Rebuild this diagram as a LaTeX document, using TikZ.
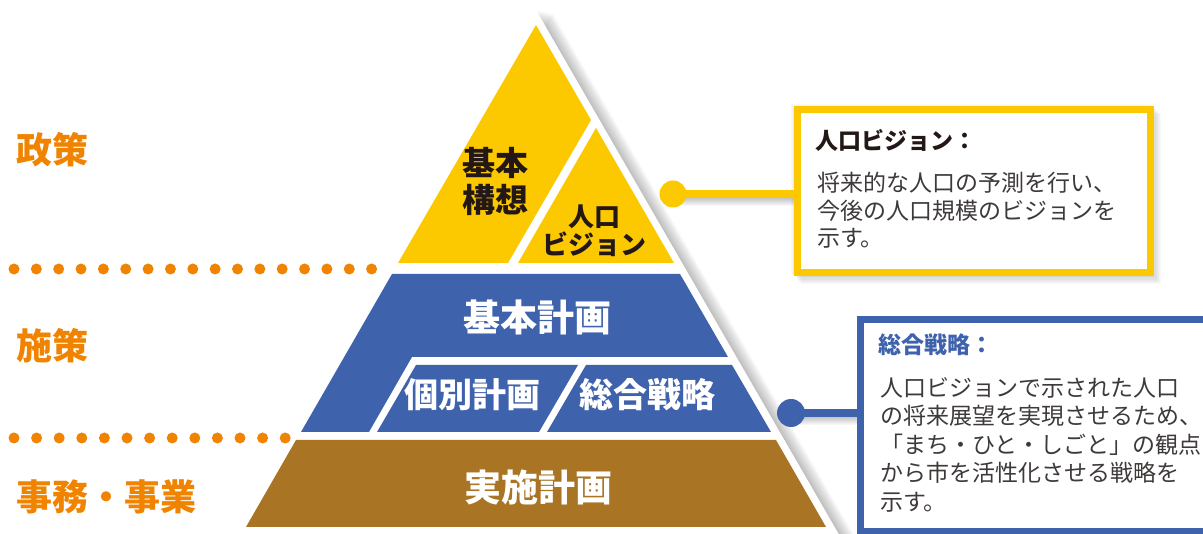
\documentclass[tikz,border=0pt]{standalone}
\usepackage{fontspec}
\newfontfamily\jp{Noto Sans CJK JP}
\newcommand\jpset[2]{\jp\fontsize{#1}{#2}\selectfont}
\usetikzlibrary{calc}
\definecolor{yel}{RGB}{252,200,0}
\definecolor{blu}{RGB}{63,98,173}
\definecolor{brn}{RGB}{169,117,37}
\definecolor{org}{RGB}{240,131,0}
\definecolor{ink}{RGB}{35,24,21}
\definecolor{bodyink}{RGB}{62,58,57}
\pgfdeclarelayer{bg}
\pgfsetlayers{bg,main}
\begin{document}
\begin{tikzpicture}[x=1pt,y=-1pt,
  shd/.style={fill=black,fill opacity=0.022,draw=none},
  lvl/.style={inner sep=0,text=white,font=\jpset{37}{37}\bfseries},
  sub/.style={inner sep=0,text=white,font=\jpset{34}{34}\bfseries},
  side/.style={inner sep=0,anchor=west,text=org,font=\jpset{36}{36}\bfseries},
  dotc/.style={fill=org},
  ttl/.style={inner sep=0,anchor=west,font=\jpset{23}{28}\bfseries},
  bodytext/.style={inner sep=0,anchor=north west,align=left,text=bodyink},
  cdot/.style={circle,inner sep=0,minimum size=27pt},
  callbox/.style={line width=7pt,fill=white,inner sep=0,anchor=north west}]
\useasboundingbox (0,0) rectangle (1203,534);
\clip (0,0) rectangle (1203,534);

% shadow of the white pyramid frame
\begin{pgfonlayer}{bg}
\foreach \i in {1,...,12}
  \fill[shd,shift={(\i*1.4,\i*0.3)}] (536,10) -- (845,545) -- (227,545) -- cycle;
\foreach \i in {1,...,10}
  \fill[shd,shift={(\i*1.1,\i*1.1)}] (790,103) rectangle (1150,273);
\end{pgfonlayer}

% white frame
\fill[white] (536,10) -- (845,545) -- (227,545) -- cycle;

% yellow top
\fill[yel] (536,25) -- (591,120) -- (508,263) -- (398,263) -- cycle;
\fill[yel] (596,128) -- (674,263) -- (518,263) -- cycle;
% blue band
\fill[blu] (392,274) -- (680,274) -- (728,357) -- (412,357) -- (369,432) -- (301,432) -- cycle;
\fill[blu] (416,365) -- (578,365) -- (539,432) -- (377,432) -- cycle;
\fill[blu] (586,365) -- (732,365) -- (771,432) -- (547,432) -- cycle;
% brown base
\fill[brn] (296,440) -- (776,440) -- (826,527) -- (246,527) -- cycle;

% pyramid labels
\node[inner sep=0,align=center,text=ink,font=\jpset{33}{37}\bfseries] (koso) at (495,181.5) {基本\\構想};
\node[inner sep=0,align=center,text=ink,font=\jpset{26}{28}\bfseries] (jvis) at (594,231) {人口\\ビジョン};
\node[lvl] (kihon) at (537,317) {基本計画};
\node[sub] (kobetsu) at (472,395) {個別計画};
\node[sub] (sogo) at (647,395) {総合戦略};
\node[lvl] (jisshi) at (538,487) {実施計画};

% side labels
\node[side] (seisaku) at (16,150) {政策};
\node[side] (shisaku) at (16,346) {施策};
\node[side] (jimu) at (16,497) {事務・事業};

% dotted dividers
\foreach \i in {0,...,16} \fill[dotc] (14+\i*22.35,269) circle (5.5);
\foreach \i in {0,...,12} \fill[dotc] (14+\i*22.6,438) circle (5.5);

% callout: population vision
\node[cdot,fill=yel] (ydot) at (673,194) {};
\node[callbox,draw=yel,minimum width=353pt,minimum height=163pt] (ybox) at (793.5,106.5) {};
\draw[yel,line width=8pt] (ydot.center) -- (ydot.center -| ybox.west);
\node[ttl,text=ink] (ytitle) at (815,140) {人口ビジョン：};
\node[bodytext,font=\jpset{23}{27.5}] (ybody) at (817,172) {将来的な人口の予測を行い、\\今後の人口規模のビジョンを\\示す。};

% callout: comprehensive strategy
\node[cdot,fill=blu,minimum size=28pt] (bdot) at (791,413) {};
\node[callbox,draw=blu,minimum width=370pt,minimum height=212pt] (bbox) at (856.5,316.5) {};
\draw[blu,line width=8pt] (bdot.center) -- (bdot.center -| bbox.west);
\node[ttl,text=blu] (btitle) at (878,345) {総合戦略：};
\node[bodytext,font=\jpset{23}{28.5}] (bbody) at (880,377) {人口ビジョンで示された人口\\の将来展望を実現させるため、\\「まち・ひと・しごと」の観点\\から市を活性化させる戦略を\\示す。};

% connector shadows
\begin{pgfonlayer}{bg}
\foreach \i in {1,...,8} {
  \draw[black,opacity=0.03,line width=8pt] ($(ydot.center)+(0,\i)$) -- ($(ydot.center -| ybox.west)+(0,\i)$);
  \draw[black,opacity=0.03,line width=8pt] ($(bdot.center)+(0,\i)$) -- ($(bdot.center -| bbox.west)+(0,\i)$);
}
\end{pgfonlayer}
\end{tikzpicture}
\end{document}
